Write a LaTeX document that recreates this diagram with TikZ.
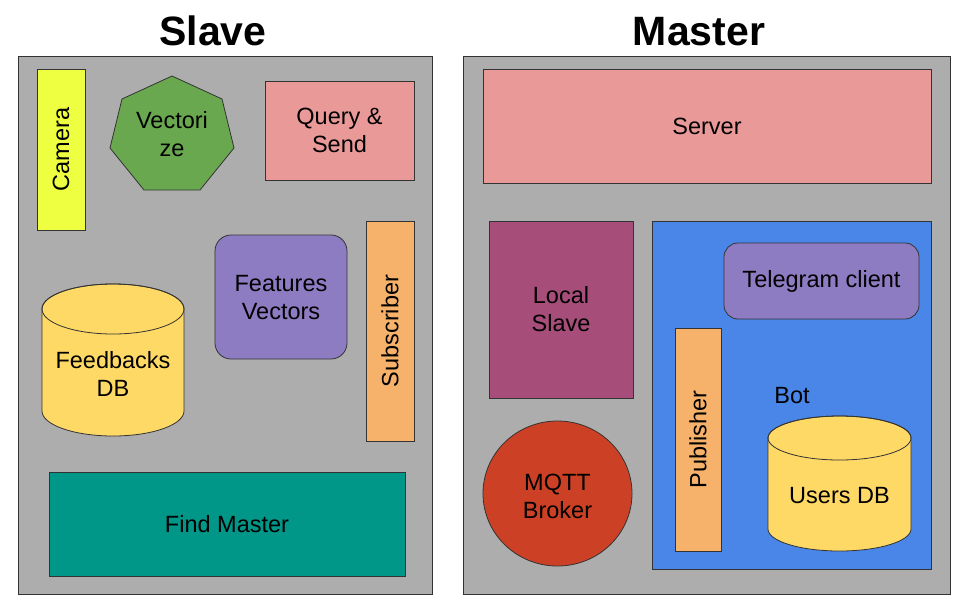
\documentclass[tikz,border=0pt]{standalone}
\usepackage{fontspec}
\setmainfont{Liberation Sans}
\definecolor{bggray}{HTML}{ADADAD}
\definecolor{camyellow}{HTML}{EEFF41}
\definecolor{vgreen}{HTML}{6AA84F}
\definecolor{qpink}{HTML}{EA9999}
\definecolor{fpurple}{HTML}{8E7CC3}
\definecolor{sorange}{HTML}{F6B26B}
\definecolor{dbyellow}{HTML}{FFD966}
\definecolor{fteal}{HTML}{009688}
\definecolor{lsmag}{HTML}{A64D79}
\definecolor{botblue}{HTML}{4A86E8}
\definecolor{mqttred}{HTML}{CC4125}
\definecolor{edge}{HTML}{333333}
\begin{document}
\begin{tikzpicture}[x=1pt,y=-1pt,
  every node/.style={font=\fontsize{23.5}{28}\selectfont, text=black},
  box/.style={draw=edge, line width=0.8pt, inner sep=0pt, align=center},
  title/.style={font=\fontsize{41}{48}\selectfont\bfseries, anchor=base},
  shp/.style={draw=edge, line width=0.8pt},
  lbl/.style={align=center, inner sep=0pt}]
\useasboundingbox[fill=white] (0,0) rectangle (976,614);

% titles
\node[title] (tslave) at (213,45) {Slave};
\node[title] (tmaster) at (699,45) {Master};

% outer boxes
\node[box, fill=bggray, minimum width=414pt, minimum height=538pt] (slave) at (225,325) {};
\node[box, fill=bggray, minimum width=487pt, minimum height=538pt] (master) at (706.5,325) {};

% ---------- Slave ----------
\node[box, fill=camyellow, minimum width=48pt, minimum height=161pt] (cambox) at (61,149.5) {};
\node[lbl, rotate=90] (camera) at (61,149.5) {Camera};

\filldraw[shp, fill=vgreen] (172,76) -- (222,99) -- (234,148) -- (200,190) -- (144,190) -- (110,148) -- (122,99) -- cycle;
\node[lbl] (vectorize) at (172,134) {Vectori\\ze};

\node[box, fill=qpink, minimum width=149pt, minimum height=99pt] (query) at (339.5,130.5) {Query \&\\Send};

\node[box, fill=fpurple, rounded corners=16pt, minimum width=132pt, minimum height=124pt] (features) at (281,297) {};
\node[lbl] (featlbl) at (281,298) {Features\\Vectors};

\node[box, fill=sorange, minimum width=48pt, minimum height=220pt] (subbox) at (390,331) {};
\node[lbl, rotate=90] (subscriber) at (390,331) {Subscriber};

% Feedbacks DB cylinder
\filldraw[shp, fill=dbyellow] (42,309) -- (42,411) arc[start angle=180, end angle=360, x radius=71pt, y radius=25pt]
  -- (184,309) arc[start angle=0, end angle=180, x radius=71pt, y radius=25pt] -- cycle;
\draw[shp] (113,309) ellipse[x radius=71pt, y radius=25pt];
\node[lbl] (feedbacks) at (113,374) {Feedbacks\\DB};

\node[box, fill=fteal, minimum width=356pt, minimum height=104pt] (find) at (227,524) {Find Master};

% ---------- Master ----------
\node[box, fill=qpink, minimum width=448pt, minimum height=114pt] (server) at (707,126) {Server};

\node[box, fill=lsmag, minimum width=144pt, minimum height=177pt] (localslave) at (561,309.5) {Local\\Slave};

\draw[shp, fill=mqttred] (557.5,493.5) ellipse[x radius=74.5pt, y radius=72.5pt];
\node[lbl] (mqtt) at (557.5,496) {MQTT\\Broker};

\node[box, fill=botblue, minimum width=279pt, minimum height=348pt] (bot) at (791.5,395) {};

\node[box, fill=fpurple, rounded corners=14pt, minimum width=195pt, minimum height=76pt] (telegram) at (821.5,281) {Telegram client};

\node[box, fill=sorange, minimum width=46pt, minimum height=223pt] (pubbox) at (698,439.5) {};
\node[lbl, rotate=90] (publisher) at (698,439.5) {Publisher};

\node[lbl] (botlbl) at (792,396) {Bot};

% Users DB cylinder
\filldraw[shp, fill=dbyellow] (768,438) -- (768,529) arc[start angle=180, end angle=360, x radius=71.5pt, y radius=22pt]
  -- (911,438) arc[start angle=0, end angle=180, x radius=71.5pt, y radius=22pt] -- cycle;
\draw[shp] (839.5,438) ellipse[x radius=71.5pt, y radius=22pt];
\node[lbl] (users) at (839.5,496) {Users DB};

\end{tikzpicture}
\end{document}
